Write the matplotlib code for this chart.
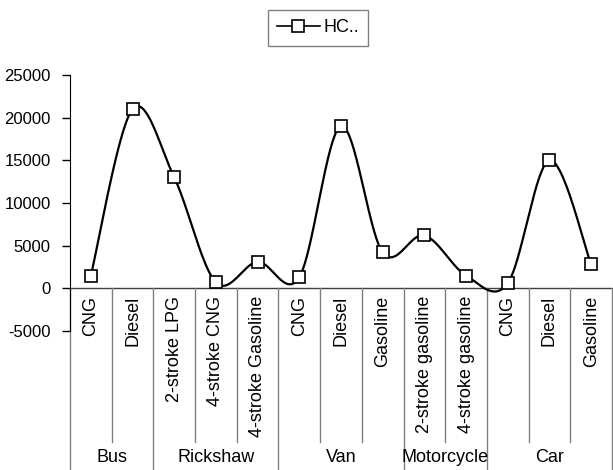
import numpy as np
import matplotlib
matplotlib.use('Agg')
import matplotlib.pyplot as plt
from matplotlib.transforms import blended_transform_factory

plt.rcParams['font.family'] = ['Liberation Sans', 'DejaVu Sans']
plt.rcParams['axes.unicode_minus'] = False

groups = ['Bus', 'Rickshaw', 'Van', 'Motorcycle', 'Car']
group_sizes = [2, 3, 3, 2, 3]
fuels = ['CNG', 'Diesel',
         '2-stroke LPG', '4-stroke CNG', '4-stroke Gasoline',
         'CNG', 'Diesel', 'Gasoline',
         '2-stroke gasoline', '4-stroke gasoline',
         'CNG', 'Diesel', 'Gasoline']
hc = [1500, 21000,
      13000, 700, 3100,
      1300, 19000, 4200,
      6200, 1500,
      600, 15000, 2800]


def smooth(xs, ys, n=40):
    # bezier segments with catmull-rom style control points
    p = np.column_stack([xs, ys]).astype(float)
    p = np.vstack([p[0], p, p[-1]])
    out = []
    t = np.linspace(0, 1, n)[:, None]
    for i in range(1, len(p) - 2):
        p0, p1, p2, p3 = p[i - 1], p[i], p[i + 1], p[i + 2]
        c1 = p1 + (p2 - p0) / 6.0
        c2 = p2 - (p3 - p1) / 6.0
        seg = ((1 - t) ** 3) * p1 + 3 * ((1 - t) ** 2) * t * c1 + 3 * (1 - t) * t ** 2 * c2 + t ** 3 * p2
        out.append(seg)
    out = np.vstack(out)
    return out[:, 0], out[:, 1]


fig = plt.figure(figsize=(6.13, 4.70), dpi=100)
ax = fig.add_axes([70 / 613, 1 - 331 / 470, 542 / 613, 256 / 470])

x = np.arange(len(hc))
sx, sy = smooth(x, hc)
ax.plot(sx, sy, color='black', lw=1.6, zorder=3)
ax.plot(x, hc, ls='none', marker='s', ms=8, mfc='white', mec='black', mew=1.2, zorder=4)
# legend proxy
line, = ax.plot([], [], color='black', lw=1.2, marker='s', ms=8, mfc='white', mec='black', mew=1.2)

ax.set_xlim(-0.5, len(hc) - 0.5)
ax.set_ylim(-5000, 25000)
ax.set_yticks(range(-5000, 25001, 5000))
ax.set_xticks([])
ax.tick_params(axis='y', direction='out', length=6, width=1, labelsize=12, pad=8)
for s in ['top', 'right', 'bottom']:
    ax.spines[s].set_visible(False)
ax.spines['left'].set_color('black')
ax.axhline(0, color='#404040', lw=1, zorder=2)

# category table under the axis
tr = blended_transform_factory(ax.transData, fig.transFigure)
y0 = 1 - 288 / 470
y_inner = 1 - 442 / 470
bounds = np.cumsum([0] + group_sizes)
for i in range(len(hc) + 1):
    xb = i - 0.5
    bottom = 0.0 if i in bounds else y_inner
    ax.plot([xb, xb], [y0, bottom], color='#808080', lw=1, transform=tr, clip_on=False)

for i, f in enumerate(fuels):
    ax.text(i, 1 - 296 / 470, f, rotation=90, ha='center', va='top',
            fontsize=13, transform=tr)

for g, a, b in zip(groups, bounds[:-1], bounds[1:]):
    ax.text((a + b - 1) / 2, 1 - 458 / 470, g, ha='center', va='center',
            fontsize=13, transform=tr)

leg = fig.legend([line], ['HC..'], loc='center', bbox_to_anchor=(318 / 613, 1 - 28 / 470),
                 fontsize=13, fancybox=False, edgecolor='#808080', framealpha=1,
                 handlelength=2.4, borderpad=0.5, handletextpad=0.2, borderaxespad=0)
leg.get_frame().set_linewidth(1)

fig.savefig('out.png', dpi=100)
